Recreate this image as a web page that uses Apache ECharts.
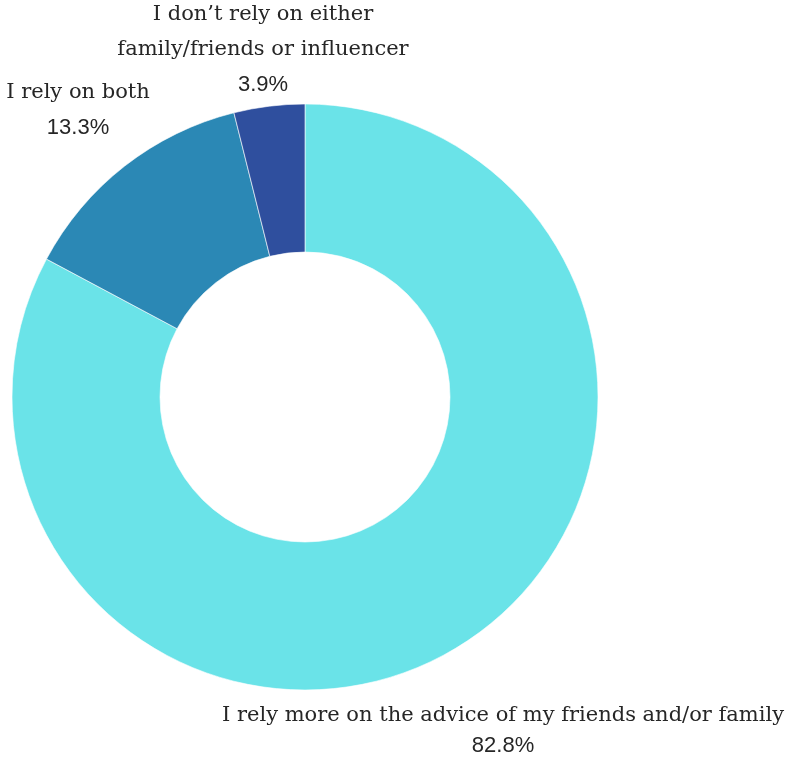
<!DOCTYPE html>
<html>
<head>
<meta charset="utf-8">
<script src="https://cdn.jsdelivr.net/npm/echarts@6/dist/echarts.min.js"></script>
<style>
  html, body { margin: 0; padding: 0; background: #ffffff; }
  #chart { width: 787px; height: 758px; }
</style>
</head>
<body>
<div id="chart"></div>
<script>
// Survey answers, clockwise from 12 o'clock
const categories = [
  'I rely more on the advice of my friends and/or family',
  'I rely on both',
  'I don\u2019t rely on either\nfamily/friends or influencer'
];
const shares = [82.8, 13.3, 3.9];
const sliceColors = ['#6ae3e8', '#2b88b5', '#2f4f9e'];

// Where each slice's caption sits (text anchor, in pixels) and its line spacing
const captionSpots = [
  { x: 503, y: 731, lh: 30 },
  { x: 78, y: 110, lh: 35 },
  { x: 263, y: 50, lh: 35 }
];

function captionText(p) {
  const lines = p.name.split('\n').map(s => '{t' + p.dataIndex + '|' + s + '}');
  lines.push('{v' + p.dataIndex + '|' + p.value.toFixed(1) + '%}');
  return lines.join('\n');
}

const rich = {};
captionSpots.forEach((s, i) => {
  rich['t' + i] = { fontFamily: 'DejaVu Serif', fontSize: 21, color: '#262626', lineHeight: s.lh, align: 'center' };
  rich['v' + i] = { fontFamily: 'Liberation Sans', fontSize: 22, color: '#262626', lineHeight: s.lh, align: 'center' };
});

const chart = echarts.init(document.getElementById('chart'));
chart.setOption({
  backgroundColor: '#ffffff',
  animation: false,
  series: [{
    type: 'pie',
    center: [305, 397],
    radius: [145, 293],
    startAngle: 90,
    clockwise: true,
    data: categories.map((name, i) => ({
      name: name,
      value: shares[i],
      itemStyle: { color: sliceColors[i] }
    })),
    itemStyle: { borderColor: '#ffffff', borderWidth: 0.6 },
    label: {
      show: true,
      position: 'outside',
      overflow: 'none',
      width: 760,
      formatter: captionText,
      rich: rich
    },
    labelLine: { show: false },
    labelLayout: function (params) {
      const s = captionSpots[params.dataIndex];
      return { x: s.x, y: s.y, align: 'center', verticalAlign: 'middle', width: 760 };
    }
  }]
});
</script>
</body>
</html>
